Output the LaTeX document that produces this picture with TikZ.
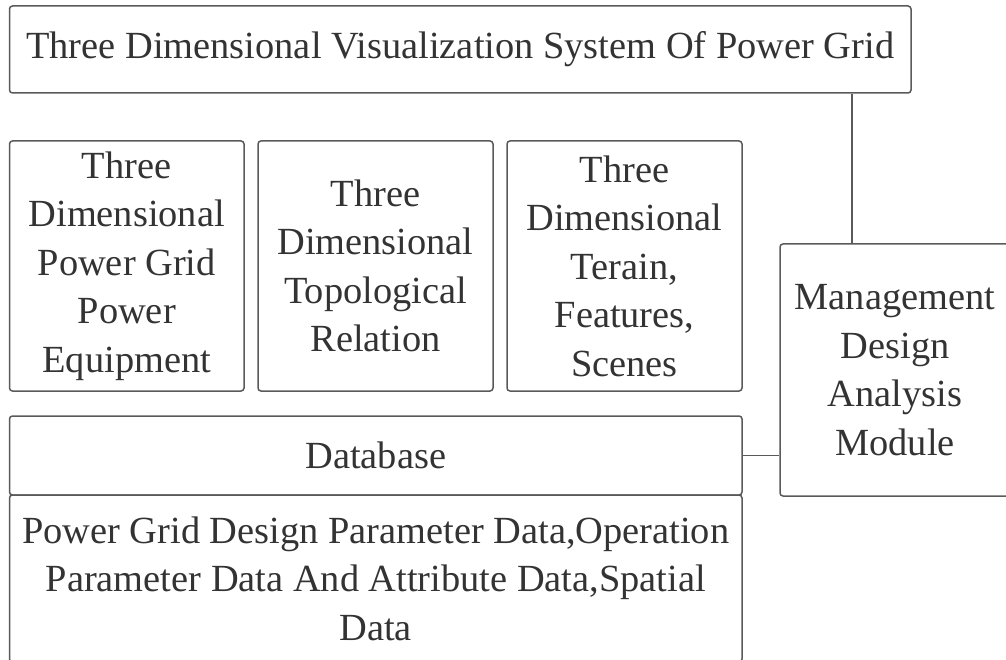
\documentclass[tikz,border=0pt]{standalone}
\usepackage{fontspec}
\setmainfont{Liberation Serif}
\definecolor{linec}{HTML}{5A5A5A}
\definecolor{textc}{HTML}{333333}
\tikzset{
  box/.style={draw=linec, line width=1.5pt, rounded corners=3pt, align=center,
    inner sep=0pt, text=textc, font=\fontsize{38.4}{48.5}\selectfont},
  link/.style={draw=linec, line width=1.5pt}
}
\begin{document}
\begin{tikzpicture}[x=1pt,y=-1pt]
\path[use as bounding box, clip] (0,0) rectangle (1006,660);
\node[box, minimum width=901.5pt, minimum height=87pt] (top) at (460.25,49.5)
  {Three Dimensional Visualization System Of Power Grid};
\node[box, minimum width=234.5pt, minimum height=250pt] (b1) at (126.75,266)
  {Three\\Dimensional\\Power Grid\\Power\\Equipment};
\node[box, minimum width=235pt, minimum height=250pt] (b2) at (375.5,266)
  {Three\\Dimensional\\Topological\\Relation};
\node[box, minimum width=235pt, minimum height=250pt] (b3) at (624.5,266)
  {Three\\Dimensional\\Terain,\\Features,\\Scenes};
\node[box, minimum width=230pt, minimum height=252pt] (mgmt) at (895,370)
  {Management\\Design\\Analysis\\Module};
\node[box, minimum width=732.5pt, minimum height=79pt] (db) at (375.75,455.5)
  {Database};
\node[box, minimum width=732.5pt, minimum height=167pt] (data) at (375.75,578.5)
  {Power Grid Design Parameter Data,Operation\\Parameter Data And Attribute Data,Spatial\\Data};
\coordinate (tap) at (852,0);
\draw[link] (top.south -| tap) -- (mgmt.north -| tap);
\draw[link] (db.east) -- (db.east -| mgmt.west);
\end{tikzpicture}
\end{document}
